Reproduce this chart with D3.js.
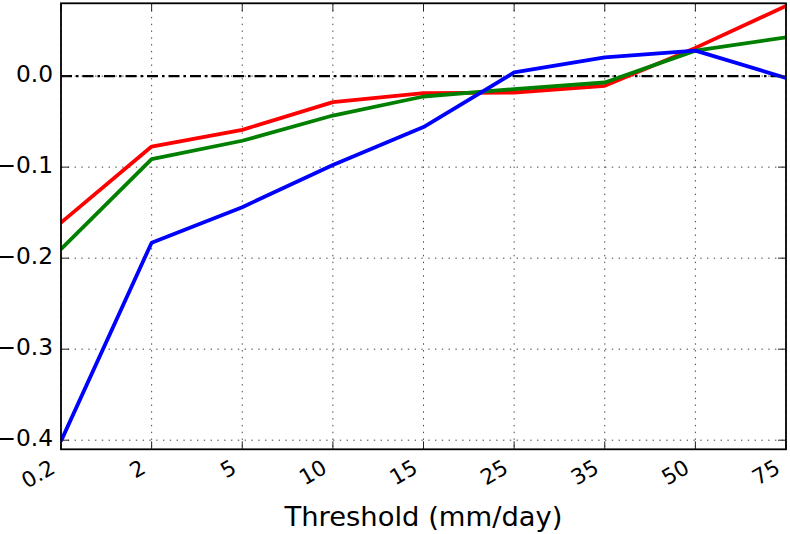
<!DOCTYPE html>
<html><head><meta charset="utf-8">
<script src="https://cdn.jsdelivr.net/npm/d3@7"></script>
<style>body{margin:0;background:#fff}svg{display:block}</style>
</head><body><svg id="c" width="790" height="534"></svg>
<script>
const categories = ["0.2","2","5","10","15","25","35","50","75"];
const blueValues  = [-0.401,-0.183,-0.144,-0.0976,-0.056,0.004,0.0205,0.028,-0.002];
const redValues   = [-0.161,-0.0774,-0.059,-0.0286,-0.0187,-0.018,-0.0107,0.031,0.077];
const greenValues = [-0.190,-0.0913,-0.071,-0.0433,-0.0224,-0.0143,-0.007,0.028,0.0425];
const yTicks = [-0.4,-0.3,-0.2,-0.1,0.0];
const yTickLabels = ["\u22120.4","\u22120.3","\u22120.2","\u22120.1","0.0"];
const xLabel = "Threshold (mm/day)";
const series = [
  {name:"red", values: redValues, color:"#ff0000"},
  {name:"green", values: greenValues, color:"#008000"},
  {name:"blue", values: blueValues, color:"#0000ff"}
];

const L=61, R=786, T=3.3, B=449.3;
const svg = d3.select("#c");
const x = d3.scalePoint().domain(categories).range([L,R]);
const y = d3.scaleLinear().domain([-0.41,0.08]).range([B,T]);
const font = "DejaVu Sans";

svg.append("defs").append("clipPath").attr("id","clip")
  .append("rect").attr("x",L).attr("y",T).attr("width",R-L).attr("height",B-T);

// grid
const grid = svg.append("g");
grid.selectAll("line.v").data(categories).enter().append("line")
  .attr("x1",d=>x(d)).attr("x2",d=>x(d)).attr("y1",T).attr("y2",B)
  .attr("stroke","#444").attr("stroke-width",1).attr("stroke-dasharray","1.4,5.4");
grid.selectAll("line.h").data(yTicks).enter().append("line")
  .attr("x1",L).attr("x2",R).attr("y1",d=>y(d)).attr("y2",d=>y(d))
  .attr("stroke","#444").attr("stroke-width",1).attr("stroke-dasharray","1.4,5.4");

// zero line
svg.append("line").attr("x1",L).attr("x2",R).attr("y1",y(0)).attr("y2",y(0))
  .attr("stroke","#000").attr("stroke-width",2.2).attr("stroke-dasharray","11,4,2.5,4");

// lines
const line = d3.line().x((d,i)=>x(categories[i])).y(d=>y(d));
svg.append("g").attr("clip-path","url(#clip)").selectAll("path").data(series).enter()
  .append("path").attr("d",d=>line(d.values)).attr("fill","none")
  .attr("stroke",d=>d.color).attr("stroke-width",3.8)
  .attr("stroke-linejoin","round").attr("stroke-linecap","butt");

// ticks (inward, all sides)
const tk = svg.append("g").attr("stroke","#222").attr("stroke-width",1);
categories.forEach(c=>{
  tk.append("line").attr("x1",x(c)).attr("x2",x(c)).attr("y1",B).attr("y2",B-8);
  tk.append("line").attr("x1",x(c)).attr("x2",x(c)).attr("y1",T).attr("y2",T+8);
});
yTicks.forEach(v=>{
  tk.append("line").attr("x1",L).attr("x2",L+8).attr("y1",y(v)).attr("y2",y(v));
  tk.append("line").attr("x1",R).attr("x2",R-8).attr("y1",y(v)).attr("y2",y(v));
});

// frame
svg.append("rect").attr("x",L).attr("y",T).attr("width",R-L).attr("height",B-T)
  .attr("fill","none").attr("stroke","#000").attr("stroke-width",1.8);

// y tick labels
svg.append("g").selectAll("text").data(yTicks).enter().append("text")
  .attr("x",53).attr("y",d=>y(d)+6.3).attr("text-anchor","end")
  .attr("font-family",font).attr("font-size",23.3).attr("fill","#000")
  .text((d,i)=>yTickLabels[i]);

// x tick labels rotated
svg.append("g").selectAll("text").data(categories).enter().append("text")
  .attr("transform",d=>`translate(${x(d)-4.5},472) rotate(-30)`)
  .attr("text-anchor","end")
  .attr("font-family",font).attr("font-size",21.5).attr("fill","#000")
  .text(d=>d);

// x label
svg.append("text").attr("x",(L+R)/2).attr("y",526).attr("text-anchor","middle")
  .attr("font-family",font).attr("font-size",27.4).attr("fill","#000").text(xLabel);
</script></body></html>
